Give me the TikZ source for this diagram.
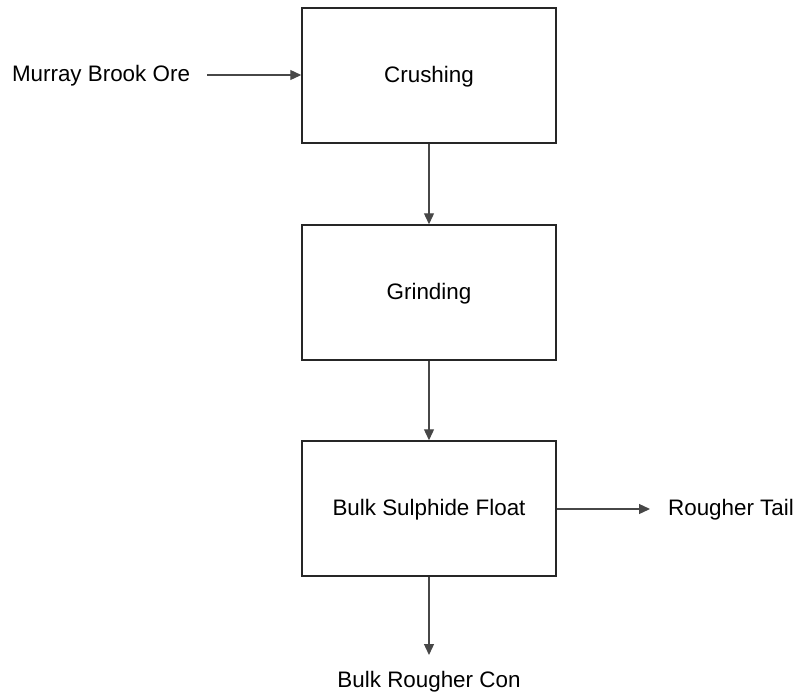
\documentclass[tikz,border=0pt]{standalone}
\usepackage{fontspec}
\setmainfont{Liberation Sans}
\usetikzlibrary{arrows.meta}
\begin{document}
\begin{tikzpicture}[x=1pt,y=-1pt,
  stage/.style={draw=black!85,line width=1.5pt,minimum width=254pt,minimum height=135pt,inner sep=0pt,text height=13pt,text depth=0pt,font=\fontsize{22.4}{26}\selectfont},
  label/.style={inner sep=0pt,text height=13pt,text depth=0pt,font=\fontsize{22.4}{26}\selectfont},
  flow/.style={draw=black!72,line width=1.3pt,-{Triangle[length=11pt,width=10pt]}}]
\useasboundingbox (0,0) rectangle (798,691);
\node[stage] (crush) at (429,75.5) {Crushing};
\node[stage] (grind) at (429,292.5) {Grinding};
\node[stage] (float) at (429,508.5) {Bulk Sulphide Float};
\node[label] (ore) at (101,75) {Murray Brook Ore};
\node[label] (tail) at (731,509) {Rougher Tail};
\node[label] (con) at (429,681) {Bulk Rougher Con};
\coordinate (oreend) at (207,75);
\coordinate (tailend) at (650,509);
\coordinate (conend) at (429,655);
\draw[flow] (oreend) -- (crush.west |- oreend);
\draw[flow] (crush) -- (grind);
\draw[flow] (grind) -- (float);
\draw[flow] (float.east |- tailend) -- (tailend);
\draw[flow] (float) -- (conend);
\end{tikzpicture}
\end{document}
